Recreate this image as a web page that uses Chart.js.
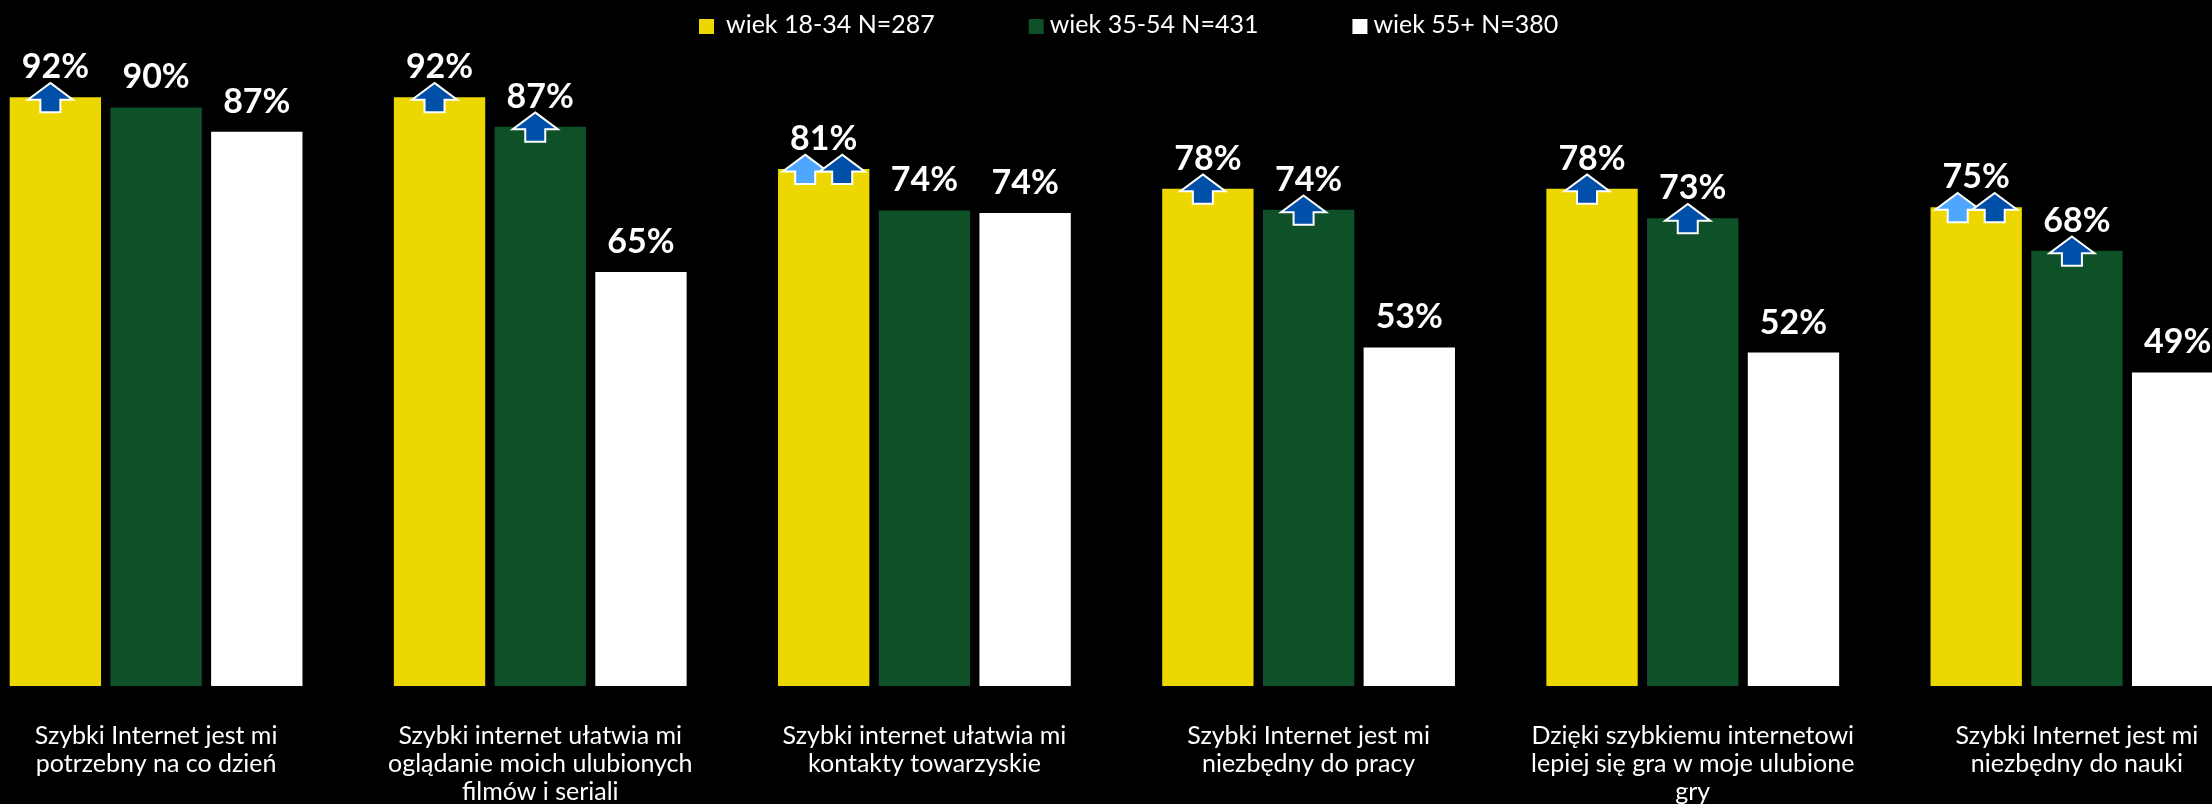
<!DOCTYPE html>
<html><head><meta charset="utf-8">
<script src="https://cdn.jsdelivr.net/npm/chart.js@4/dist/chart.umd.min.js"></script>
<style>
html,body{margin:0;padding:0;background:#000;overflow:hidden;width:2212px;height:804px;}
#wrap{position:absolute;left:-36px;top:0;width:2305px;height:804px;}
</style></head><body>
<div id="wrap"><canvas id="c"></canvas></div>
<script>
const categories = [
  ['Szybki Internet jest mi', 'potrzebny na co dzień'],
  ['Szybki internet ułatwia mi', 'oglądanie moich ulubionych', 'filmów i seriali'],
  ['Szybki internet ułatwia mi', 'kontakty towarzyskie'],
  ['Szybki Internet jest mi', 'niezbędny do pracy'],
  ['Dzięki szybkiemu internetowi', 'lepiej się gra w moje ulubione', 'gry'],
  ['Szybki Internet jest mi', 'niezbędny do nauki']
];
const seriesNames = ['wiek 18-34 N=287', 'wiek 35-54 N=431', 'wiek 55+ N=380'];
const age18_34 = [92.0, 92.0, 80.8, 77.7, 77.7, 74.8];
const age35_54 = [90.4, 87.4, 74.3, 74.4, 73.1, 68.0];
const age55plus = [86.6, 64.7, 73.9, 52.9, 52.1, 49.0];
const arrows18_34 = ['dark', 'dark', 'both', 'dark', 'dark', 'both'];
const arrows35_54 = ['', 'dark', '', 'dark', 'dark', 'dark'];
const arrows55plus = ['', '', '', '', '', ''];

const COLORS = ['#ECD800', '#0E5129', '#FFFFFF'];
const DARK_BLUE = '#004FA8';
const LIGHT_BLUE = '#4FA6FF';
const FONT = 'Lato, "Open Sans", sans-serif';

function drawArrow(ctx, cx, top, color) {
  const tip = top - 13, base = top + 1.5, bot = top + 14, hw = 19.5, sw = 9;
  ctx.save();
  ctx.beginPath();
  ctx.moveTo(cx, tip);
  ctx.lineTo(cx + hw, base);
  ctx.lineTo(cx + sw, base);
  ctx.lineTo(cx + sw, bot);
  ctx.lineTo(cx - sw, bot);
  ctx.lineTo(cx - sw, base);
  ctx.lineTo(cx - hw, base);
  ctx.closePath();
  ctx.lineJoin = 'miter';
  ctx.lineWidth = 4;
  ctx.strokeStyle = '#FFFFFF';
  ctx.stroke();
  ctx.fillStyle = color;
  ctx.fill();
  ctx.restore();
}

const overlayPlugin = {
  id: 'overlay',
  afterDatasetsDraw(chart) {
    const ctx = chart.ctx;
    const arrowSets = [arrows18_34, arrows35_54, arrows55plus];
    chart.data.datasets.forEach((ds, di) => {
      const meta = chart.getDatasetMeta(di);
      meta.data.forEach((el, i) => {
        const v = ds.data[i];
        ctx.save();
        ctx.font = 'bold 34px ' + FONT;
        ctx.fillStyle = '#FFFFFF';
        ctx.textAlign = 'center';
        ctx.textBaseline = 'alphabetic';
        ctx.fillText(Math.round(v) + '%', el.x, el.y - 19);
        ctx.restore();
        const a = arrowSets[di][i];
        if (a === 'dark') {
          drawArrow(ctx, el.x - 5, el.y, DARK_BLUE);
        } else if (a === 'both') {
          drawArrow(ctx, el.x - 18.5, el.y, LIGHT_BLUE);
          drawArrow(ctx, el.x + 18.5, el.y, DARK_BLUE);
        }
      });
    });
  },
  afterDraw(chart) {
    const ctx = chart.ctx;
    ctx.save();
    ctx.font = '25px ' + FONT;
    const box = 15, gapText = [12, 6, 6], gapItem = 94;
    let x = 735;
    chart.data.datasets.forEach((d, i) => {
      ctx.fillStyle = d.backgroundColor;
      ctx.fillRect(x, 19, box, box);
      ctx.fillStyle = '#FFFFFF';
      ctx.textAlign = 'left';
      ctx.textBaseline = 'alphabetic';
      const tx = x + box + gapText[i];
      ctx.fillText(d.label, tx, 33);
      x = tx + ctx.measureText(d.label).width + gapItem;
    });
    ctx.restore();
  }
};

new Chart(document.getElementById('c'), {
  type: 'bar',
  data: {
    labels: categories,
    datasets: [
      { label: seriesNames[0], data: age18_34, backgroundColor: COLORS[0] },
      { label: seriesNames[1], data: age35_54, backgroundColor: COLORS[1] },
      { label: seriesNames[2], data: age55plus, backgroundColor: COLORS[2] }
    ]
  },
  options: {
    responsive: true,
    maintainAspectRatio: false,
    devicePixelRatio: 1,
    animation: false,
    layout: { padding: { top: 46, left: 0, right: 0, bottom: 0 } },
    datasets: { bar: { categoryPercentage: 0.7865, barPercentage: 0.907 } },
    plugins: { legend: { display: false }, tooltip: { enabled: false } },
    scales: {
      y: { min: 0, max: 100, display: false },
      x: {
        grid: { display: false, drawTicks: false },
        border: { display: false },
        afterFit(scale) { scale.height = 118; },
        ticks: {
          color: '#FFFFFF',
          font: { family: FONT, size: 25, lineHeight: 28 / 25 },
          padding: 36,
          maxRotation: 0,
          autoSkip: false
        }
      }
    }
  },
  plugins: [overlayPlugin]
});
</script>
</body></html>
